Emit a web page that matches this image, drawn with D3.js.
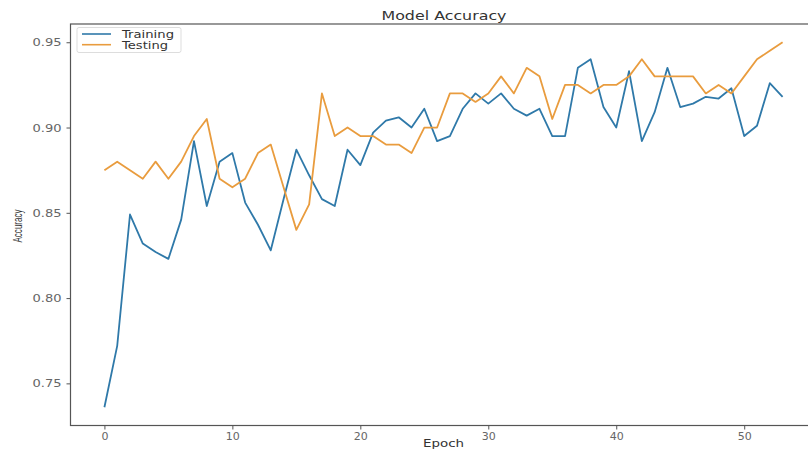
<!DOCTYPE html>
<html>
<head>
<meta charset="utf-8">
<script src="https://cdn.jsdelivr.net/npm/d3@7"></script>
<style>
  body { margin: 0; background: #fff; }
  svg { display: block; }
</style>
</head>
<body>
<div id="chart"></div>
<script>
// epochs 0..53
const epochs = d3.range(0, 54);

const trainingAcc = [
  0.736, 0.772, 0.849, 0.832, 0.827, 0.823, 0.846, 0.892, 0.854, 0.880,
  0.885, 0.856, 0.843, 0.828, 0.858, 0.887, 0.872, 0.858, 0.854, 0.887,
  0.878, 0.897, 0.904, 0.906, 0.900, 0.911, 0.892, 0.895, 0.911, 0.920,
  0.914, 0.920, 0.911, 0.907, 0.911, 0.895, 0.895, 0.935, 0.940, 0.912,
  0.900, 0.933, 0.892, 0.909, 0.935, 0.912, 0.914, 0.918, 0.917, 0.923,
  0.895, 0.901, 0.926, 0.918
];

const testingAcc = [
  0.875, 0.880, 0.875, 0.870, 0.880, 0.870, 0.880, 0.895, 0.905, 0.870,
  0.865, 0.870, 0.885, 0.890, 0.865, 0.840, 0.855, 0.920, 0.895, 0.900,
  0.895, 0.895, 0.890, 0.890, 0.885, 0.900, 0.900, 0.920, 0.920, 0.915,
  0.920, 0.930, 0.920, 0.935, 0.930, 0.905, 0.925, 0.925, 0.920, 0.925,
  0.925, 0.930, 0.940, 0.930, 0.930, 0.930, 0.930, 0.920, 0.925, 0.920,
  0.930, 0.940, 0.945, 0.950
];

const xTicks = [0, 10, 20, 30, 40, 50];
const yTicks = [0.75, 0.80, 0.85, 0.90, 0.95];
const seriesNames = ["Training", "Testing"];
const seriesColors = ["#2f79a9", "#e99c3e"];

const width = 808, height = 450;

const svg = d3.select("#chart")
  .append("svg")
  .attr("width", width)
  .attr("height", height);

// plot frame (right edge falls outside the picture)
const frame = { left: 70.5, right: 816.5, top: 24, bottom: 425.5 };

const x = d3.scaleLinear()
  .domain([-2.65, 55.65])
  .range([frame.left, frame.right]);

const y = d3.scaleLinear()
  .domain([0.7253, 0.9607])
  .range([frame.bottom, frame.top]);

// axes
const xAxis = svg.append("g")
  .attr("transform", `translate(0, ${frame.bottom})`)
  .call(d3.axisBottom(x).tickValues(xTicks).tickFormat(d3.format("d")).tickSizeOuter(0).tickSize(4).tickPadding(3));

const yAxis = svg.append("g")
  .attr("transform", `translate(${frame.left}, 0)`)
  .call(d3.axisLeft(y).tickValues(yTicks).tickFormat(d3.format(".2f")).tickSizeOuter(0).tickSize(4).tickPadding(5));

[xAxis, yAxis].forEach(g => {
  g.select(".domain").remove();
  g.selectAll("line").attr("stroke", "#555").attr("stroke-width", 1);
  g.selectAll("text")
    .attr("fill", "#666")
    .style("font-family", "DejaVu Sans, sans-serif")
    .style("font-size", "11px");
});
yAxis.selectAll("text")
  .attr("textLength", 29)
  .attr("lengthAdjust", "spacingAndGlyphs");

// frame
svg.append("rect")
  .attr("x", frame.left)
  .attr("y", frame.top)
  .attr("width", frame.right - frame.left)
  .attr("height", frame.bottom - frame.top)
  .attr("fill", "none")
  .attr("stroke", "#555")
  .attr("stroke-width", 1.2);

// lines
const line = d3.line()
  .x((d, i) => x(epochs[i]))
  .y(d => y(d));

[trainingAcc, testingAcc].forEach((series, i) => {
  svg.append("path")
    .datum(series)
    .attr("fill", "none")
    .attr("stroke", seriesColors[i])
    .attr("stroke-width", 1.8)
    .attr("stroke-linejoin", "round")
    .attr("d", line);
});

// title + axis labels (the source image is stretched sideways, so widen text)
svg.append("text")
  .text("Model Accuracy")
  .attr("x", 444)
  .attr("y", 19.5)
  .attr("fill", "#333")
  .attr("textLength", 125)
  .attr("lengthAdjust", "spacingAndGlyphs")
  .style("font-family", "DejaVu Sans, sans-serif")
  .style("font-size", "12px")
  .style("text-anchor", "middle");

svg.append("text")
  .text("Epoch")
  .attr("x", 443.5)
  .attr("y", 447)
  .attr("fill", "#333")
  .attr("textLength", 41)
  .attr("lengthAdjust", "spacingAndGlyphs")
  .style("font-family", "DejaVu Sans, sans-serif")
  .style("font-size", "11px")
  .style("text-anchor", "middle");

svg.append("text")
  .text("Accuracy")
  .attr("transform", "translate(22, 226) rotate(-90)")
  .attr("fill", "#333")
  .attr("textLength", 33)
  .attr("lengthAdjust", "spacingAndGlyphs")
  .style("font-family", "Liberation Sans Narrow, Liberation Sans, sans-serif")
  .style("font-size", "12.5px")
  .style("text-anchor", "middle");

// legend
const legend = svg.append("g");
legend.append("rect")
  .attr("x", 77)
  .attr("y", 27.5)
  .attr("width", 104)
  .attr("height", 25)
  .attr("rx", 2)
  .attr("fill", "#fff")
  .attr("stroke", "#ddd");

const legendWidths = [52, 46];
seriesNames.forEach((name, i) => {
  const ly = 34 + i * 10.7;
  legend.append("line")
    .attr("x1", 82).attr("x2", 111)
    .attr("y1", ly).attr("y2", ly)
    .attr("stroke", seriesColors[i])
    .attr("stroke-width", 1.6);
  legend.append("text")
    .text(name)
    .attr("x", 122)
    .attr("y", ly + 3.8)
    .attr("fill", "#333")
    .attr("textLength", legendWidths[i])
    .attr("lengthAdjust", "spacingAndGlyphs")
    .style("font-family", "DejaVu Sans, sans-serif")
    .style("font-size", "10.5px");
});
</script>
</body>
</html>
